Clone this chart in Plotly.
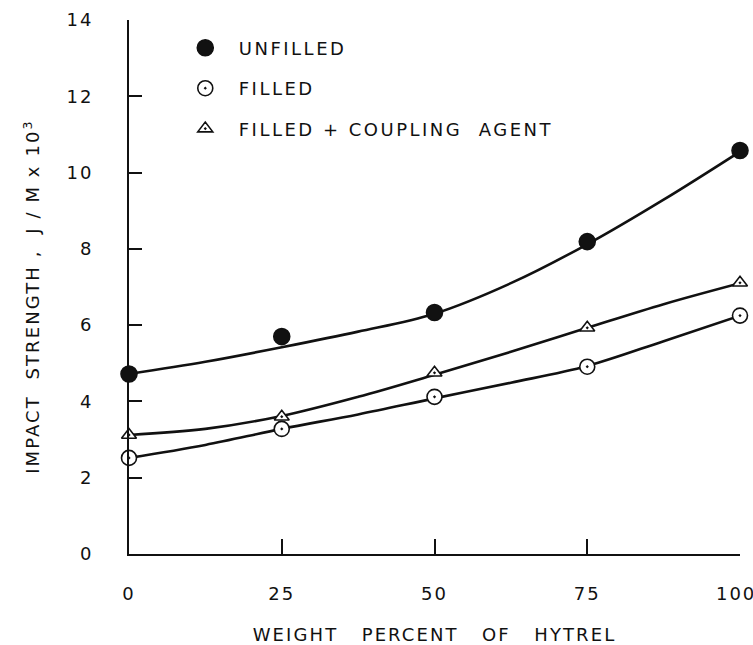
import plotly.graph_objects as go

hytrel_pct = [0, 25, 50, 75, 100]

unfilled = [4.72, 5.70, 6.33, 8.19, 10.58]
filled = [2.52, 3.28, 4.12, 4.91, 6.25]
filled_coupling = [3.12, 3.60, 4.75, 5.93, 7.11]

# smooth fitted curves at these positions
fit_pct = [0, 12.5, 25, 37.5, 50, 62.5, 75, 87.5, 100]
unfilled_fit = [4.72, 5.04, 5.42, 5.83, 6.30, 7.10, 8.12, 9.29, 10.55]
filled_fit = [2.52, 2.86, 3.28, 3.66, 4.08, 4.49, 4.93, 5.58, 6.25]
filled_coupling_fit = [3.12, 3.28, 3.62, 4.12, 4.70, 5.30, 5.93, 6.55, 7.10]

x_ticks = [0, 25, 50, 75, 100]
x_tick_labels = ["0", "25", "50", "75", "100\u00a0"]
y_ticks = [0, 2, 4, 6, 8, 10, 12, 14]

FONT = "DejaVu Sans"
INK = "#111111"
NB = "\u00a0"


def spaced(t, px=2.5):
    return '<span style="letter-spacing:%spx">%s</span>' % (px, t)


fig = go.Figure()

for fit in [unfilled_fit, filled_fit, filled_coupling_fit]:
    fig.add_trace(go.Scatter(
        x=fit_pct, y=fit, mode="lines",
        line=dict(color=INK, width=2.6, shape="spline", smoothing=1.0),
        showlegend=False, hoverinfo="skip", cliponaxis=False))

series = [
    ("UNFILLED", unfilled, "circle", 16, INK),
    ("FILLED", filled, "circle-dot", 15, "white"),
    ("FILLED" + NB + "+" + NB + "COUPLING" + NB * 2 + "AGENT", filled_coupling,
     "triangle-up-dot", 13, "white"),
]
for i, (name, vals, sym, size, col) in enumerate(series):
    fig.add_trace(go.Scatter(
        x=hytrel_pct, y=vals, mode="markers", name=spaced(name),
        legendgroup="g%d" % i,
        marker=dict(symbol=sym, size=size, color=col,
                    line=dict(color=INK, width=1.6)),
        cliponaxis=False))

y_title = "IMPACT" + NB * 2 + "STRENGTH" + NB + "," + NB * 2 + "J" + NB + "/" + NB + "M" + NB + "x" + NB + "10<sup>3</sup>"

fig.update_layout(
    width=753, height=645,
    margin=dict(l=129, r=13, t=20, b=91),
    paper_bgcolor="white", plot_bgcolor="white",
    font=dict(family=FONT, size=18, color=INK),
    showlegend=True,
    legend=dict(x=0.07, y=0.982, xanchor="left", yanchor="top",
                bgcolor="rgba(0,0,0,0)", tracegroupgap=14,
                font=dict(family=FONT, size=18, color=INK),
                itemwidth=57),
    xaxis=dict(
        range=[0, 100], tickmode="array", tickvals=x_ticks,
        ticktext=[spaced(v, 2) for v in x_tick_labels],
        ticks="inside", ticklen=15, tickwidth=1.8, tickcolor=INK,
        showline=True, linecolor=INK, linewidth=1.8,
        showgrid=False, zeroline=False, ticklabelstandoff=22,
        automargin=False, ticklabeloverflow="allow",
        tickfont=dict(size=18),
        title=dict(text=spaced("WEIGHT" + NB * 3 + "PERCENT" + NB * 3 + "OF" + NB * 3 + "HYTREL", 2.1),
                   standoff=32, font=dict(size=18))),
    yaxis=dict(
        range=[0, 14], tickmode="array", tickvals=y_ticks,
        ticktext=[spaced(str(v), 2) for v in y_ticks],
        ticks="inside", ticklen=13, tickwidth=1.8, tickcolor=INK,
        showline=True, linecolor=INK, linewidth=1.8,
        showgrid=False, zeroline=False, ticklabelstandoff=30,
        automargin=False, ticklabeloverflow="allow",
        tickfont=dict(size=18)),
    annotations=[dict(
        text=spaced(y_title, 2.1), textangle=-90,
        xref="paper", yref="paper", x=-0.16, y=0.482,
        xanchor="center", yanchor="middle", showarrow=False,
        font=dict(family=FONT, size=18, color=INK))],
)

fig.write_html("out.html",
               config={"displayModeBar": False},
               post_script="document.body.style.margin='0';document.body.style.overflow='hidden';")
